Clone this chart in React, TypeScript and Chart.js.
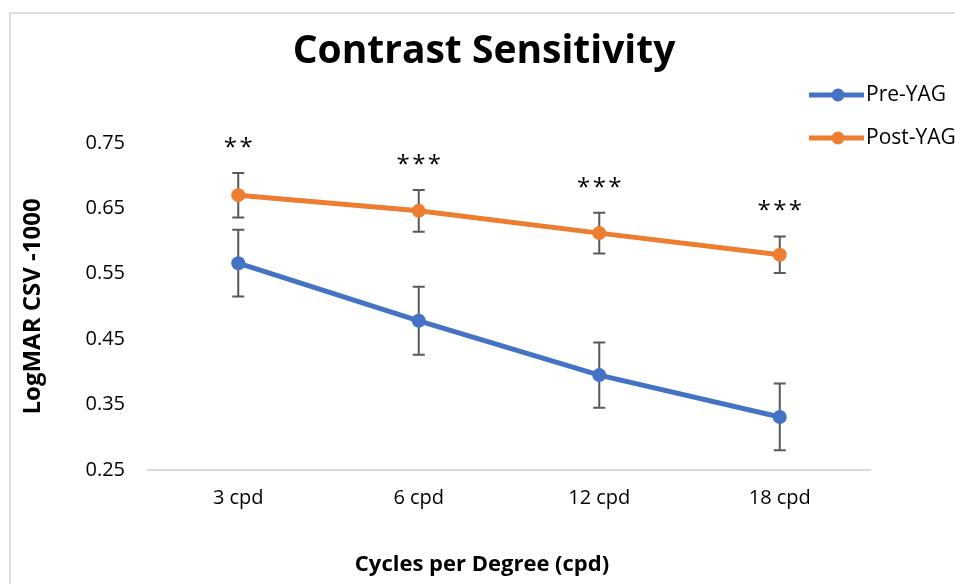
import { useEffect, useRef } from "react";
import { Chart, registerables } from "chart.js";

Chart.register(...registerables);

const categories = ["3 cpd", "6 cpd", "12 cpd", "18 cpd"];
const preYAG = [0.566, 0.478, 0.395, 0.331];
const postYAG = [0.670, 0.646, 0.612, 0.579];
const preYAGErr = [0.051, 0.052, 0.050, 0.051];
const postYAGErr = [0.034, 0.032, 0.031, 0.028];
const significance = ["**", "***", "***", "***"];
const yTicks = [0.25, 0.35, 0.45, 0.55, 0.65, 0.75];
const xAxisTitle = "Cycles per Degree (cpd)";

const FONT = "'Open Sans', sans-serif";
const BLUE = "#4472C4";
const ORANGE = "#ED7D31";
const ERR = "#595959";

const errorBarPlugin = {
  id: "errorBars",
  beforeDatasetsDraw(chart: any) {
    const { ctx } = chart;
    const yScale = chart.scales.y;
    const errs = [preYAGErr, postYAGErr];
    const vals = [preYAG, postYAG];
    ctx.save();
    ctx.strokeStyle = ERR;
    ctx.lineWidth = 2;
    for (let i = 0; i < 2; i++) {
      const meta = chart.getDatasetMeta(i);
      meta.data.forEach((pt: any, j: number) => {
        const x = pt.x;
        const yt = yScale.getPixelForValue(vals[i][j] + errs[i][j]);
        const yb = yScale.getPixelForValue(vals[i][j] - errs[i][j]);
        ctx.beginPath();
        ctx.moveTo(x, yt);
        ctx.lineTo(x, yb);
        ctx.moveTo(x - 6, yt);
        ctx.lineTo(x + 6, yt);
        ctx.moveTo(x - 6, yb);
        ctx.lineTo(x + 6, yb);
        ctx.stroke();
      });
    }
    ctx.restore();
  },
  afterDatasetsDraw(chart: any) {
    const { ctx } = chart;
    const yScale = chart.scales.y;
    const meta = chart.getDatasetMeta(1);
    ctx.save();
    ctx.fillStyle = "#000";
    ctx.font = `24px ${FONT}`;
    ctx.textAlign = "center";
    ctx.textBaseline = "middle";
    meta.data.forEach((pt: any, j: number) => {
      const y = yScale.getPixelForValue(postYAG[j] + postYAGErr[j]) - 25;
      const s = significance[j].split("").join("\u200A");
      ctx.fillText(s, pt.x, y);
    });
    ctx.restore();
  },
  afterDraw(chart: any) {
    const { ctx } = chart;
    ctx.save();
    chart.data.datasets.forEach((ds: any, i: number) => {
      const y = 95 + i * 43;
      ctx.strokeStyle = ds.borderColor;
      ctx.lineWidth = 5;
      ctx.beginPath();
      ctx.moveTo(809, y);
      ctx.lineTo(864, y);
      ctx.stroke();
      ctx.fillStyle = ds.borderColor;
      ctx.beginPath();
      ctx.arc(838, y, 6.5, 0, Math.PI * 2);
      ctx.fill();
      ctx.fillStyle = "#000";
      ctx.font = `21px ${FONT}`;
      ctx.textAlign = "left";
      ctx.textBaseline = "middle";
      ctx.fillText(ds.label, 866, y);
    });
    ctx.fillStyle = "#000";
    ctx.font = `bold 22px ${FONT}`;
    ctx.textAlign = "center";
    ctx.textBaseline = "middle";
    ctx.fillText(xAxisTitle, 482, 565);
    ctx.restore();
  },
};

export default function App() {
  const ref = useRef<HTMLCanvasElement | null>(null);
  useEffect(() => {
    if (!ref.current) return;
    const chart = new Chart(ref.current, {
      type: "line",
      data: {
        labels: categories,
        datasets: [
          {
            label: "Pre-YAG",
            data: preYAG,
            borderColor: BLUE,
            backgroundColor: BLUE,
            borderWidth: 5,
            pointRadius: 7,
            pointBorderWidth: 0,
            pointBackgroundColor: BLUE,
            tension: 0,
          },
          {
            label: "Post-YAG",
            data: postYAG,
            borderColor: ORANGE,
            backgroundColor: ORANGE,
            borderWidth: 5,
            pointRadius: 7,
            pointBorderWidth: 0,
            pointBackgroundColor: ORANGE,
            tension: 0,
          },
        ],
      },
      options: {
        responsive: false,
        animation: false,
        events: [],
        layout: { padding: { top: 0, right: 0, bottom: 0, left: 13 } },
        plugins: {
          legend: { display: false },
          tooltip: { enabled: false },
          title: {
            display: true,
            text: "Contrast Sensitivity",
            color: "#000",
            font: { family: FONT, size: 39, weight: "bold" },
            padding: { top: 28, bottom: 68 },
          },
        },
        scales: {
          x: {
            type: "category",
            offset: true,
            grid: { display: false, drawTicks: false },
            border: { display: true, color: "#d9d9d9", width: 2 },
            ticks: {
              color: "#000",
              font: { family: FONT, size: 20 },
              padding: 16,
            },
            title: { display: false },
            afterFit(scale: any) {
              scale.height = 114;
            },
          },
          y: {
            min: 0.25,
            max: 0.75,
            grid: { display: false, drawTicks: false },
            border: { display: false },
            afterBuildTicks(scale: any) {
              scale.ticks = yTicks.map((v) => ({ value: v }));
            },
            ticks: {
              color: "#000",
              font: { family: FONT, size: 20 },
              padding: 23,
              callback: (v: any) => Number(v).toFixed(2),
            },
            title: {
              display: true,
              text: "LogMAR CSV -1000",
              color: "#000",
              font: { family: FONT, size: 24, weight: "bold" },
              padding: { top: 6, bottom: 0 },
            },
            afterFit(scale: any) {
              scale.width = 135;
            },
          },
          yRight: {
            type: "linear",
            position: "right",
            display: true,
            grid: { display: false, drawTicks: false },
            border: { display: false },
            ticks: { display: false },
            afterFit(scale: any) {
              scale.width = 85;
            },
          },
        },
      },
      plugins: [errorBarPlugin],
    });
    return () => chart.destroy();
  }, []);

  return (
    <div
      style={{
        position: "absolute",
        left: 0,
        top: 0,
        width: 955,
        height: 584,
        overflow: "hidden",
        background: "#fff",
      }}
    >
      <div
        style={{
          position: "absolute",
          left: 9,
          top: 12,
          width: 1000,
          height: 1000,
          border: "2px solid #dedede",
          boxSizing: "border-box",
        }}
      />
      <canvas
        ref={ref}
        width={955}
        height={584}
        style={{ position: "absolute", left: 0, top: 0, width: 955, height: 584 }}
      />
    </div>
  );
}
